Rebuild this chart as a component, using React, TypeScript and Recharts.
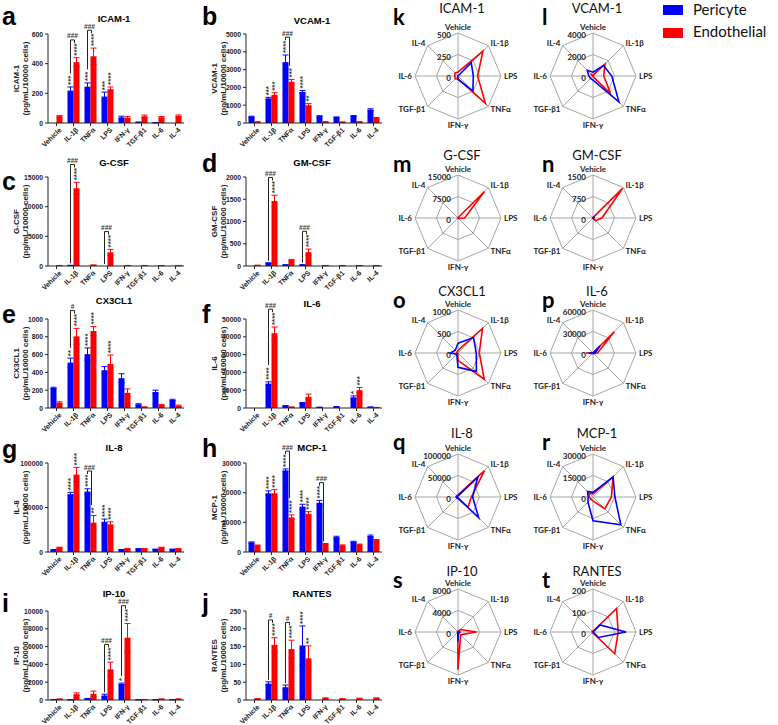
import React from "react";
import {
  BarChart, Bar, XAxis, YAxis, ErrorBar, LabelList,
  RadarChart, Radar, PolarGrid, PolarAngleAxis, PolarRadiusAxis,
} from "recharts";

const BLUE = "#0000ff";
const RED = "#ff0000";
const FONT = "'Liberation Sans', Arial, sans-serif";
const RFONT = "Lato, 'Open Sans', sans-serif";

const CATS = ["Vehicle", "IL-1β", "TNFα", "LPS", "IFN-γ", "TGF-β1", "IL-6", "IL-4"];
const RADAR_CATS = ["Vehicle", "IL-1β", "LPS", "TNFα", "IFN-γ", "TGF-β1", "IL-6", "IL-4"];
const SERIES = ["Pericyte", "Endothelial"];

// ---- data (pg/mL/10000 cells) ----
const icamP = [0, 218, 245, 178, 38, 5, 2, 0];
const icamPErr = [0, 25, 25, 30, 8, 2, 1, 0];
const icamE = [45, 410, 450, 228, 35, 45, 38, 48];
const icamEErr = [5, 30, 55, 15, 8, 8, 6, 6];
const icamPStars = ["", "***", "***", "***", "", "", "", ""];
const icamEStars = ["", "****", "****", "****", "", "", "", ""];
const icamHash = ["", "###", "###", "", "", "", "", ""];

const vcamP = [350, 1380, 3420, 1750, 380, 320, 390, 750];
const vcamPErr = [30, 60, 400, 80, 30, 20, 30, 50];
const vcamE = [60, 1580, 2320, 1000, 60, 50, 60, 280];
const vcamEErr = [10, 120, 130, 90, 10, 10, 10, 30];
const vcamPStars = ["", "***", "****", "****", "", "", "", ""];
const vcamEStars = ["", "***", "***", "**", "", "", "", ""];
const vcamHash = ["", "", "###", "", "", "", "", ""];

const gcsfP = [0, 100, 0, 0, 0, 0, 0, 0];
const gcsfPErr = [0, 20, 0, 0, 0, 0, 0, 0];
const gcsfE = [80, 13100, 150, 2300, 80, 80, 80, 80];
const gcsfEErr = [10, 1000, 20, 500, 10, 10, 10, 10];
const gcsfPStars = ["", "", "", "", "", "", "", ""];
const gcsfEStars = ["", "****", "", "****", "", "", "", ""];
const gcsfHash = ["", "###", "", "###", "", "", "", ""];

const gmcsfP = [0, 65, 25, 25, 0, 0, 0, 0];
const gmcsfPErr = [0, 8, 4, 4, 0, 0, 0, 0];
const gmcsfE = [15, 1460, 130, 310, 10, 10, 10, 10];
const gmcsfEErr = [3, 130, 15, 70, 2, 2, 2, 2];
const gmcsfPStars = ["", "", "", "", "", "", "", ""];
const gmcsfEStars = ["", "****", "", "****", "", "", "", ""];
const gmcsfHash = ["", "###", "", "###", "", "", "", ""];

const cx3P = [225, 510, 605, 425, 335, 40, 180, 90];
const cx3PErr = [8, 50, 70, 40, 50, 8, 20, 8];
const cx3E = [60, 805, 865, 495, 170, 10, 35, 25];
const cx3EErr = [10, 90, 50, 100, 45, 3, 6, 8];
const cx3PStars = ["", "**", "****", "", "", "", "", ""];
const cx3EStars = ["", "****", "****", "****", "", "", "", ""];
const cx3Hash = ["", "#", "", "", "", "", "", ""];

const il6P = [0, 13700, 1200, 2800, 400, 700, 6000, 500];
const il6PErr = [0, 1000, 150, 300, 50, 80, 800, 60];
const il6E = [0, 42000, 500, 6300, 0, 0, 10000, 300];
const il6EErr = [0, 3500, 80, 1500, 0, 0, 1500, 50];
const il6PStars = ["", "****", "", "", "", "", "*", ""];
const il6EStars = ["", "****", "", "", "", "", "***", ""];
const il6Hash = ["", "###", "", "", "", "", "", ""];

const il8P = [2500, 65000, 68000, 34000, 2500, 3500, 3000, 3000];
const il8PErr = [300, 2000, 3000, 3000, 300, 300, 300, 300];
const il8E = [5000, 87000, 33000, 31000, 3500, 3500, 5000, 3500];
const il8EErr = [400, 8000, 8000, 3000, 300, 300, 400, 300];
const il8PStars = ["", "****", "****", "****", "", "", "", ""];
const il8EStars = ["", "****", "**", "****", "", "", "", ""];
const il8Hash = ["", "", "###", "", "", "", "", ""];

const mcpP = [3200, 19800, 27500, 15300, 16600, 5000, 3400, 5400];
const mcpPErr = [200, 800, 500, 800, 800, 300, 200, 300];
const mcpE = [2200, 19800, 11700, 12800, 2700, 2200, 2500, 4000];
const mcpEErr = [150, 1200, 800, 800, 150, 200, 150, 200];
const mcpPStars = ["", "****", "****", "****", "****", "", "", ""];
const mcpEStars = ["", "****", "****", "****", "", "", "", ""];
const mcpHash = ["", "", "###", "", "###", "", "", ""];

const ip10P = [50, 30, 150, 500, 1800, 30, 30, 30];
const ip10PErr = [10, 10, 30, 150, 100, 10, 10, 10];
const ip10E = [100, 650, 700, 3450, 7000, 50, 100, 100];
const ip10EErr = [20, 150, 300, 800, 1600, 10, 20, 20];
const ip10PStars = ["", "", "", "", "*", "", "", ""];
const ip10EStars = ["", "", "", "****", "****", "", "", ""];
const ip10Hash = ["", "", "", "###", "###", "", "", ""];

const rantesP = [0, 46, 36, 153, 0, 0, 0, 0];
const rantesPErr = [0, 5, 6, 55, 0, 0, 0, 0];
const rantesE = [3, 155, 143, 117, 5, 3, 4, 5];
const rantesEErr = [1, 20, 25, 35, 1, 1, 1, 1];
const rantesPStars = ["", "", "", "****", "", "", "", ""];
const rantesEStars = ["", "****", "****", "**", "", "", "", ""];
const rantesHash = ["", "#", "#", "", "", "", "", ""];

// ---- panel configs ----
const PANELS = [
  { letter: "a", title: "ICAM-1", max: 600, ticks: [0, 200, 400, 600], rmax: 500, rletter: "k",
    p: icamP, pe: icamPErr, e: icamE, ee: icamEErr, ps: icamPStars, es: icamEStars, h: icamHash },
  { letter: "b", title: "VCAM-1", max: 5000, ticks: [0, 1000, 2000, 3000, 4000, 5000], rmax: 4000, rletter: "l",
    p: vcamP, pe: vcamPErr, e: vcamE, ee: vcamEErr, ps: vcamPStars, es: vcamEStars, h: vcamHash },
  { letter: "c", title: "G-CSF", max: 15000, ticks: [0, 5000, 10000, 15000], rmax: 15000, rletter: "m",
    p: gcsfP, pe: gcsfPErr, e: gcsfE, ee: gcsfEErr, ps: gcsfPStars, es: gcsfEStars, h: gcsfHash },
  { letter: "d", title: "GM-CSF", max: 2000, ticks: [0, 500, 1000, 1500, 2000], rmax: 1500, rletter: "n",
    p: gmcsfP, pe: gmcsfPErr, e: gmcsfE, ee: gmcsfEErr, ps: gmcsfPStars, es: gmcsfEStars, h: gmcsfHash },
  { letter: "e", title: "CX3CL1", max: 1000, ticks: [0, 200, 400, 600, 800, 1000], rmax: 1000, rletter: "o",
    p: cx3P, pe: cx3PErr, e: cx3E, ee: cx3EErr, ps: cx3PStars, es: cx3EStars, h: cx3Hash },
  { letter: "f", title: "IL-6", max: 50000, ticks: [0, 10000, 20000, 30000, 40000, 50000], rmax: 60000, rletter: "p",
    p: il6P, pe: il6PErr, e: il6E, ee: il6EErr, ps: il6PStars, es: il6EStars, h: il6Hash },
  { letter: "g", title: "IL-8", max: 100000, ticks: [0, 50000, 100000], rmax: 100000, rletter: "q",
    p: il8P, pe: il8PErr, e: il8E, ee: il8EErr, ps: il8PStars, es: il8EStars, h: il8Hash },
  { letter: "h", title: "MCP-1", max: 30000, ticks: [0, 10000, 20000, 30000], rmax: 30000, rletter: "r",
    p: mcpP, pe: mcpPErr, e: mcpE, ee: mcpEErr, ps: mcpPStars, es: mcpEStars, h: mcpHash },
  { letter: "i", title: "IP-10", max: 10000, ticks: [0, 2000, 4000, 6000, 8000, 10000], rmax: 8000, rletter: "s",
    p: ip10P, pe: ip10PErr, e: ip10E, ee: ip10EErr, ps: ip10PStars, es: ip10EStars, h: ip10Hash },
  { letter: "j", title: "RANTES", max: 250, ticks: [0, 50, 100, 150, 200, 250], rmax: 200, rletter: "t",
    p: rantesP, pe: rantesPErr, e: rantesE, ee: rantesEErr, ps: rantesPStars, es: rantesEStars, h: rantesHash },
];

// ---- layout ----
const PLOT_H = 89;
const BAND = 17;
const PLOT_W = BAND * 8;
const Y_W = 48;
const TOP_M = 26;
const COL_AXIS_X = [48, 246];
const ROW_TOP = [34, 177, 319, 463, 611];
const TITLE_Y = [[18, 20], [162, 162], [300, 303], [447, 447], [593, 593]];
const LETTER_Y = [[25, 25], [190, 172], [323, 323], [458, 457], [612, 612]];
const LETTER_X = [2, 202];

const R_CX = [458, 593];
const R_CY = [76, 218, 353, 497, 632];
const R_TITLE_Y = [8, 155, 291, 433, 571];
const R_OUT = 43;

const XTick = (props: any) => {
  const { x, y, payload } = props;
  const tx = x + 2;
  const ty = y - 1;
  return (
    <text x={tx} y={ty} transform={`rotate(-45 ${tx} ${ty})`} textAnchor="end"
      dominantBaseline="hanging" fontSize={7} fontWeight={700} fontFamily={FONT} fill="#222">
      {payload.value}
    </text>
  );
};

const YTick = (props: any) => {
  const { x, y, payload } = props;
  return (
    <text x={x} y={y} textAnchor="end" dominantBaseline="central" fontSize={6.8}
      fontWeight={700} fontFamily={FONT} fill="#222">{payload.value}</text>
  );
};

function starLen(s: string) {
  return s ? 2 + s.length * 3.2 : 0;
}

function makeLabel(cfg: any, series: "p" | "e", ppu: number) {
  return (props: any) => {
    const vb = props.viewBox && props.viewBox.width !== undefined ? props.viewBox : props;
    const { x, y, width } = vb;
    if (x === undefined || y === undefined) return null;
    const i = Math.max(0, Math.min(7, Math.floor((x + width / 2 - Y_W) / BAND)));
    const base = TOP_M + PLOT_H;
    const els: any[] = [];
    const cx = x + width / 2;
    const stars = series === "p" ? cfg.ps[i] : cfg.es[i];
    const val = series === "p" ? cfg.p[i] : cfg.e[i];
    const err = series === "p" ? cfg.pe[i] : cfg.ee[i];
    const top = base - (val + err) * ppu;
    if (stars) {
      els.push(
        <text key="s" x={cx} y={top - 2} transform={`rotate(-90 ${cx} ${top - 2})`} textAnchor="start"
          dominantBaseline="central" fontSize={8} fontWeight={700} fontFamily={FONT} fill="#333">{stars}</text>
      );
    }
    if (series === "e" && cfg.h[i]) {
      const pTop = base - (cfg.p[i] + cfg.pe[i]) * ppu - starLen(cfg.ps[i]);
      const eTop = top - starLen(stars);
      const yh = Math.min(pTop, eTop) - 3;
      const xl = x - width / 2;
      const xr = x + 1;
      const lLeg = Math.max(yh + 3, pTop - 2);
      const rLeg = Math.max(yh + 3, eTop - 2);
      els.push(<line key="h" x1={xl} x2={xr} y1={yh} y2={yh} stroke="#222" strokeWidth={1} />);
      els.push(<line key="l" x1={xl} x2={xl} y1={yh} y2={lLeg} stroke="#222" strokeWidth={1} />);
      els.push(<line key="r" x1={xr} x2={xr} y1={yh} y2={rLeg} stroke="#222" strokeWidth={1} />);
      els.push(
        <text key="t" x={(xl + xr) / 2} y={yh - 1.5} textAnchor="middle" fontSize={6.5} fontWeight={700}
          fontFamily={FONT} fill="#333">{cfg.h[i]}</text>
      );
    }
    return <g>{els}</g>;
  };
}

function BarPanel({ cfg, col, row }: any) {
  const data = CATS.map((c, i) => ({ cat: c, p: cfg.p[i], pe: cfg.pe[i], e: cfg.e[i], ee: cfg.ee[i] }));
  const ppu = PLOT_H / cfg.max;
  const left = COL_AXIS_X[col] - Y_W;
  const top = ROW_TOP[row] - TOP_M;
  return (
    <div style={{ position: "absolute", left, top }}>
      <BarChart width={Y_W + PLOT_W + 2} height={TOP_M + PLOT_H + 40} data={data}
        margin={{ top: TOP_M, right: 2, left: 0, bottom: 0 }} barCategoryGap={2.5} barGap={0}>
        <XAxis dataKey="cat" interval={0} tick={<XTick />} tickSize={3} height={40}
          axisLine={{ stroke: "#222" }} tickLine={{ stroke: "#222" }} />
        <YAxis width={Y_W} domain={[0, cfg.max]} ticks={cfg.ticks} interval={0} tick={<YTick />} tickSize={3}
          axisLine={{ stroke: "#222" }} tickLine={{ stroke: "#222" }} allowDataOverflow />
        <Bar dataKey="p" name={SERIES[0]} fill={BLUE} isAnimationActive={false}>
          <ErrorBar dataKey="pe" stroke={BLUE} width={3} strokeWidth={1} direction="y" />
          <LabelList dataKey="p" content={makeLabel(cfg, "p", ppu)} />
        </Bar>
        <Bar dataKey="e" name={SERIES[1]} fill={RED} isAnimationActive={false}>
          <ErrorBar dataKey="ee" stroke={RED} width={3} strokeWidth={1} direction="y" />
          <LabelList dataKey="e" content={makeLabel(cfg, "e", ppu)} />
        </Bar>
      </BarChart>
    </div>
  );
}

const RC = 90;
const RCY = 70;

const AngleTick = (props: any) => {
  const { x, y, payload } = props;
  const dx = x - RC;
  const dy = y - RCY;
  const anchor = Math.abs(dx) < 2 ? "middle" : dx > 0 ? "start" : "end";
  const base = Math.abs(dx) < 2 ? (dy < 0 ? "auto" : "hanging") : "central";
  return (
    <text x={x} y={y} textAnchor={anchor} dominantBaseline={base} fontSize={8} fontWeight={700}
      fontFamily={RFONT} fill="#222">{payload.value}</text>
  );
};

const RadiusTick = (props: any) => {
  const { x, y, payload } = props;
  return (
    <text x={x - 7} y={y + 2} textAnchor="end" dominantBaseline="central" fontSize={8} fontWeight={700}
      fontFamily={RFONT} fill="#222">{payload.value}</text>
  );
};

function RadarPanel({ cfg, col, row }: any) {
  const data = RADAR_CATS.map((c) => {
    const i = CATS.indexOf(c);
    return { cat: c, p: cfg.p[i], e: cfg.e[i] };
  });
  return (
    <div style={{ position: "absolute", left: R_CX[col] - RC, top: R_CY[row] - RCY }}>
      <RadarChart width={180} height={140} cx={RC} cy={RCY} outerRadius={R_OUT} data={data}
        margin={{ top: 0, right: 0, bottom: 0, left: 0 }}>
        <PolarGrid gridType="polygon" stroke="#a6a6a6" strokeWidth={1} />
        <PolarAngleAxis dataKey="cat" tick={<AngleTick />} tickLine={false} axisLine={false} tickSize={3} />
        <PolarRadiusAxis angle={90} domain={[0, cfg.rmax]} tickCount={3} tick={<RadiusTick />}
          axisLine={false} tickLine={false} />
        <Radar dataKey="e" name={SERIES[1]} stroke={RED} strokeWidth={1.6} fill="none" fillOpacity={0}
          isAnimationActive={false} dot={false} />
        <Radar dataKey="p" name={SERIES[0]} stroke={BLUE} strokeWidth={1.6} fill="none" fillOpacity={0}
          isAnimationActive={false} dot={false} />
      </RadarChart>
    </div>
  );
}

export default function App() {
  return (
    <div style={{ position: "fixed", left: 0, top: 0, width: 778, height: 725, background: "#fff", overflow: "hidden" }}>
      {PANELS.map((cfg, k) => (
        <BarPanel key={"b" + k} cfg={cfg} col={k % 2} row={Math.floor(k / 2)} />
      ))}
      {PANELS.map((cfg, k) => (
        <RadarPanel key={"r" + k} cfg={cfg} col={k % 2} row={Math.floor(k / 2)} />
      ))}
      <svg width={778} height={725} style={{ position: "absolute", left: 0, top: 0, pointerEvents: "none" }}>
        {PANELS.map((cfg, k) => {
          const col = k % 2;
          const row = Math.floor(k / 2);
          const ax = COL_AXIS_X[col];
          const cy = ROW_TOP[row] + PLOT_H / 2;
          const l1x = ax - 29;
          return (
            <g key={"t" + k}>
              <text x={LETTER_X[col]} y={LETTER_Y[row][col]} fontSize={25} fontWeight={700} fontFamily={FONT} fill="#000">
                {cfg.letter}
              </text>
              <text x={ax + PLOT_W / 2 - 2} y={TITLE_Y[row][col]} textAnchor="middle" dominantBaseline="central"
                fontSize={9.5} fontWeight={700} fontFamily={FONT} fill="#000">{cfg.title}</text>
              <text transform={`translate(${l1x},${cy}) rotate(-90)`} textAnchor="middle" fontSize={8}
                fontWeight={700} fontFamily={FONT} fill="#222">
                <tspan x={0} dy={0}>{cfg.title}</tspan>
                <tspan x={0} dy={8.5}>(pg/mL/10000 cells)</tspan>
              </text>
              <text x={col === 0 ? 393 : 542} y={R_TITLE_Y[row] + 17} fontSize={22} fontWeight={700}
                fontFamily={RFONT} fill="#000">{cfg.rletter}</text>
              <text x={R_CX[col] + 4} y={R_TITLE_Y[row]} textAnchor="middle" dominantBaseline="central"
                fontSize={13} fontFamily={RFONT} fill="#111">{cfg.title}</text>
            </g>
          );
        })}
        <rect x={663} y={5} width={20} height={10} fill={BLUE} />
        <text x={693} y={15} fontSize={15} fontFamily={RFONT} fill="#111">{SERIES[0]}</text>
        <rect x={663} y={28} width={20} height={10} fill={RED} />
        <text x={693} y={37} fontSize={15} fontFamily={RFONT} fill="#111">{SERIES[1]}</text>
      </svg>
    </div>
  );
}
